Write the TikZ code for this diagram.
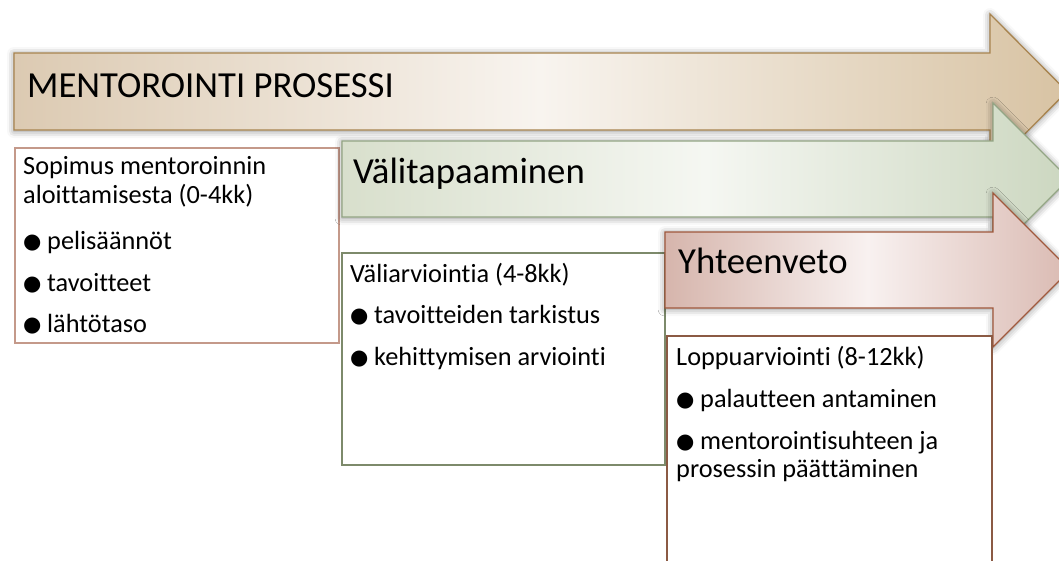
\documentclass[tikz,border=0pt]{standalone}
\usepackage{fontspec}
\setmainfont{Carlito}[Ligatures={NoCommon}]
\newfontfamily\dejavu{DejaVu Sans}
\usetikzlibrary{shadows.blur}
\definecolor{tanA}{HTML}{DCCAB2}
\definecolor{tanB}{HTML}{F8F4EF}
\definecolor{tanC}{HTML}{D8C3A3}
\definecolor{tanLine}{HTML}{A8844F}
\definecolor{grnA}{HTML}{D8DFCC}
\definecolor{grnB}{HTML}{F5F7F2}
\definecolor{grnC}{HTML}{CCD7C0}
\definecolor{grnLine}{HTML}{93A584}
\definecolor{pnkA}{HTML}{D6B5AC}
\definecolor{pnkB}{HTML}{F8F1F0}
\definecolor{pnkC}{HTML}{DABAB2}
\definecolor{pnkLine}{HTML}{A0583C}
\definecolor{boxA}{HTML}{C4998A}
\definecolor{boxB}{HTML}{7D8A6B}
\definecolor{boxC}{HTML}{8B5A44}
\newcommand\bul{\makebox[24pt][l]{\raisebox{0.5pt}{\dejavu\fontsize{21}{21}\selectfont ●}}}
\tikzset{
  arrowshape/.style={line width=1.3pt, line join=miter,
    blur shadow={shadow xshift=0pt, shadow yshift=-1pt, shadow blur radius=7pt, shadow opacity=45}},
  titletext/.style={anchor=base west, inner sep=0pt, font=\fontsize{36.7}{40}\selectfont},
  bodytext/.style={anchor=base west, inner sep=0pt, font=\fontsize{26.3}{29}\selectfont},
  boxframe/.style={anchor=north west, inner sep=0pt, line width=1.5pt, fill=white},
}
\begin{document}
\begin{tikzpicture}[x=1pt,y=-1pt]
\useasboundingbox (0,0) rectangle (1059,560);
\clip (0,0) rectangle (1059,560);
% arrow 1
\path[arrowshape, draw=tanLine, left color=tanA, right color=tanC, middle color=tanB]
  (14,53) -- (990,53) -- (990,14) -- (1067,91.5) -- (990,169) -- (990,130) -- (14,130) -- cycle;
\node[titletext] (t1) at (27,97) {MENTOROINTI PROSESSI};
% box 1
\node[boxframe, draw=boxA, minimum width=324, minimum height=195] (b1) at (14,147) {};
% arrow 2
\path[arrowshape, draw=grnLine, left color=grnA, right color=grnC, middle color=grnB]
  (342,141) -- (993,141) -- (993,103) -- (1069,179) -- (993,255) -- (993,217) -- (342,217) -- cycle;
\node[titletext] (t2) at (353,183) {Välitapaaminen};
% box 2
\node[boxframe, draw=boxB, minimum width=323, minimum height=212] (b2) at (341,252) {};
% arrow 3
\path[arrowshape, draw=pnkLine, left color=pnkA, right color=pnkC, middle color=pnkB]
  (665,232) -- (993,232) -- (993,193) -- (1070,270) -- (993,347) -- (993,308) -- (665,308) -- cycle;
\node[titletext] (t3) at (678,273) {Yhteenveto};
% box 3
\node[boxframe, draw=boxC, minimum width=325, minimum height=240] (b3) at (666,335) {};
% texts box 1
\node[bodytext] (a1) at (23,174) {Sopimus mentoroinnin};
\node[bodytext] (a2) at (23,203) {aloittamisesta (0-4kk)};
\node[bodytext] (a3) at (23,249) {\bul pelisäännöt};
\node[bodytext] (a4) at (23,291) {\bul tavoitteet};
\node[bodytext] (a5) at (23,332) {\bul lähtötaso};
% texts box 2
\node[bodytext] (c1) at (350,282) {Väliarviointia (4-8kk)};
\node[bodytext] (c2) at (350,323) {\bul tavoitteiden tarkistus};
\node[bodytext] (c3) at (350,365) {\bul kehittymisen arviointi};
% texts box 3
\node[bodytext] (d1) at (676,365) {Loppuarviointi (8-12kk)};
\node[bodytext] (d2) at (676,407) {\bul palautteen antaminen};
\node[bodytext] (d3) at (676,449) {\bul mentorointisuhteen ja};
\node[bodytext] (d4) at (676,477) {prosessin päättäminen};
\end{tikzpicture}
\end{document}
